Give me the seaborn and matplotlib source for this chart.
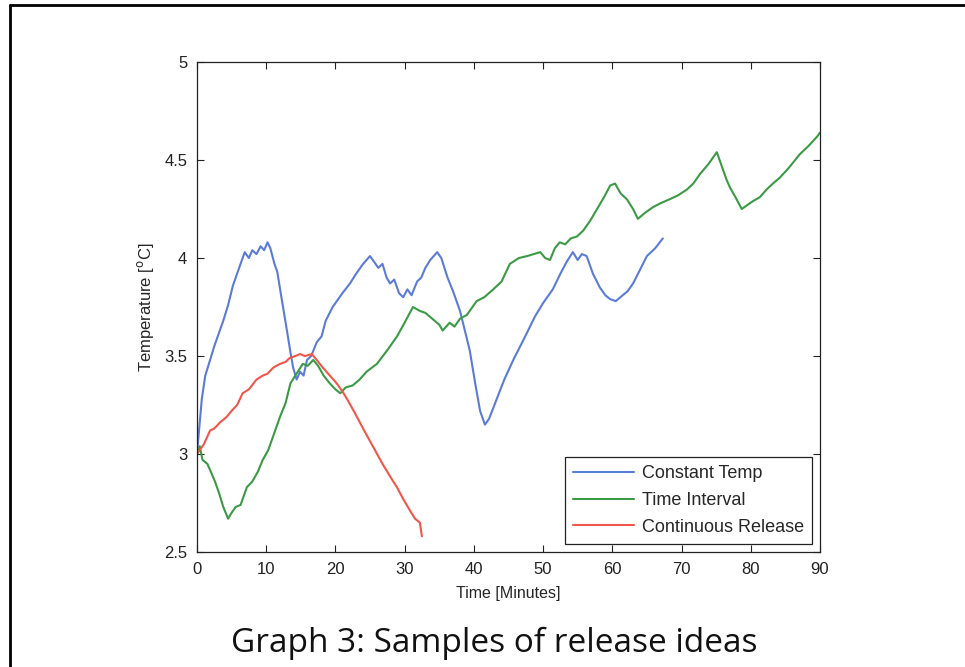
import numpy as np
import pandas as pd
import matplotlib
matplotlib.use("Agg")
import matplotlib.pyplot as plt
from matplotlib.lines import Line2D
import seaborn as sns

# values (time in minutes, temperature in degC)
const_t = [0, 0.3, 0.7, 1.2, 1.9, 2.5, 3.0, 3.8, 4.5, 5.2, 5.8, 6.4, 6.9, 7.5, 8.0,
           8.6, 9.2, 9.7, 10.2, 10.6, 11.2, 11.6, 12.2, 13.0, 13.5, 13.9, 14.4, 14.9,
           15.4, 15.9, 16.5, 17.3, 18.0, 18.6, 19.6, 20.2, 21.0, 22.1, 23.0, 24.0,
           25.0, 25.6, 26.2, 26.8, 27.4, 27.9, 28.5, 29.2, 29.8, 30.4, 31.0, 31.8,
           32.4, 33.0, 33.7, 34.7, 35.3, 36.2, 37.0, 38.0, 39.4, 40.2, 40.9, 41.6,
           42.2, 43.3, 44.4, 45.7, 46.7, 47.7, 48.8, 50.0, 51.4, 52.5, 53.4, 54.3,
           55.0, 55.6, 56.3, 57.2, 58.2, 59.0, 59.7, 60.5, 61.5, 62.2, 63.0, 64.0,
           65.0, 66.2, 67.3]
const_y = [3.00, 3.12, 3.28, 3.40, 3.48, 3.55, 3.60, 3.68, 3.76, 3.86, 3.92, 3.98, 4.03,
           4.00, 4.04, 4.02, 4.06, 4.04, 4.08, 4.05, 3.97, 3.93, 3.80, 3.63, 3.52, 3.44,
           3.38, 3.42, 3.40, 3.48, 3.50, 3.57, 3.60, 3.68, 3.75, 3.78, 3.82, 3.87, 3.92,
           3.97, 4.01, 3.98, 3.95, 3.97, 3.90, 3.87, 3.89, 3.82, 3.80, 3.84, 3.81, 3.88,
           3.90, 3.95, 3.99, 4.03, 4.00, 3.90, 3.83, 3.73, 3.53, 3.36, 3.22, 3.15, 3.18,
           3.28, 3.38, 3.48, 3.55, 3.62, 3.70, 3.77, 3.84, 3.92, 3.98, 4.03, 3.99, 4.02,
           4.01, 3.92, 3.85, 3.81, 3.79, 3.78, 3.81, 3.83, 3.87, 3.94, 4.01, 4.05, 4.10]

interval_t = [0, 0.4, 0.8, 1.5, 2.0, 2.6, 3.2, 3.8, 4.5, 5.0, 5.6, 6.3, 7.2, 8.0, 8.8,
              9.5, 10.3, 11.0, 12.0, 12.8, 13.5, 14.2, 15.3, 16.0, 16.8, 17.5, 18.3,
              19.2, 20.0, 20.7, 21.5, 22.5, 23.5, 24.5, 26.0, 27.5, 28.9, 30.0, 31.2,
              32.2, 33.0, 34.0, 35.0, 35.5, 36.5, 37.2, 38.0, 39.0, 40.4, 41.5, 42.8,
              44.0, 45.2, 46.5, 47.7, 49.6, 50.3, 51.0, 51.7, 52.4, 53.2, 54.0, 54.9,
              55.8, 56.8, 57.8, 58.8, 59.7, 60.4, 61.2, 62.1, 63.0, 63.7, 64.7, 65.9,
              67.0, 68.3, 69.5, 70.8, 71.7, 72.7, 73.9, 75.1, 75.9, 76.5, 77.0, 77.8,
              78.7, 79.5, 80.3, 81.3, 82.3, 83.2, 84.2, 85.5, 87.1, 88.3, 89.6, 90.0]
interval_y = [3.00, 3.04, 2.97, 2.95, 2.91, 2.86, 2.80, 2.73, 2.67, 2.70, 2.73, 2.74,
              2.83, 2.86, 2.91, 2.97, 3.02, 3.09, 3.19, 3.26, 3.36, 3.40, 3.46, 3.45,
              3.48, 3.45, 3.40, 3.36, 3.33, 3.31, 3.34, 3.35, 3.38, 3.42, 3.46, 3.53,
              3.60, 3.67, 3.75, 3.73, 3.72, 3.69, 3.66, 3.63, 3.67, 3.65, 3.69, 3.71,
              3.78, 3.80, 3.84, 3.88, 3.97, 4.00, 4.01, 4.03, 4.00, 3.99, 4.05, 4.08,
              4.07, 4.10, 4.11, 4.14, 4.19, 4.25, 4.31, 4.37, 4.38, 4.33, 4.30, 4.25,
              4.20, 4.23, 4.26, 4.28, 4.30, 4.32, 4.35, 4.38, 4.43, 4.48, 4.54, 4.46,
              4.40, 4.36, 4.31, 4.25, 4.27, 4.29, 4.31, 4.35, 4.38, 4.41, 4.46, 4.53,
              4.57, 4.62, 4.64]

release_t = [0, 0.4, 1.0, 1.9, 2.5, 3.3, 4.3, 5.0, 5.8, 6.6, 7.5, 8.6, 9.5, 10.2, 11.0,
             12.0, 12.8, 13.4, 14.2, 14.9, 15.6, 16.6, 17.3, 18.2, 19.2, 20.2, 21.0,
             21.7, 22.8, 24.0, 25.4, 26.8, 28.0, 28.9, 29.8, 30.8, 31.5, 32.2, 32.5]
release_y = [3.00, 3.02, 3.05, 3.12, 3.13, 3.16, 3.19, 3.22, 3.25, 3.31, 3.33, 3.38,
             3.40, 3.41, 3.44, 3.46, 3.47, 3.49, 3.50, 3.51, 3.50, 3.51, 3.48, 3.44,
             3.40, 3.36, 3.32, 3.28, 3.21, 3.13, 3.04, 2.95, 2.88, 2.83, 2.77, 2.71,
             2.67, 2.65, 2.58]

series_names = ["Constant Temp", "Time Interval", "Continuous Release"]
x_ticks = [0, 10, 20, 30, 40, 50, 60, 70, 80, 90]
y_ticks = [2.5, 3, 3.5, 4, 4.5, 5]
y_tick_labels = ["2.5", "3", "3.5", "4", "4.5", "5"]

df = pd.concat([
    pd.DataFrame({"Time": const_t, "Temp": const_y, "Series": series_names[0]}),
    pd.DataFrame({"Time": interval_t, "Temp": interval_y, "Series": series_names[1]}),
    pd.DataFrame({"Time": release_t, "Temp": release_y, "Series": series_names[2]}),
], ignore_index=True)

sns.set_style("ticks")
plt.rcParams["font.family"] = ["Liberation Sans", "DejaVu Sans"]

palette = {"Constant Temp": "#5b7bd9", "Time Interval": "#3b9a45", "Continuous Release": "#f0564a"}

fig = plt.figure(figsize=(9.65, 6.67), dpi=100)
ax = fig.add_axes([0.2041, 0.1724, 0.6456, 0.7346])

sns.lineplot(data=df, x="Time", y="Temp", hue="Series", palette=palette,
             sort=False, estimator=None, linewidth=1.5, ax=ax)

ax.set_xlim(0, 90)
ax.set_ylim(2.5, 5)
ax.set_xticks(x_ticks)
ax.set_yticks(y_ticks)
ax.set_yticklabels(y_tick_labels)
ax.tick_params(direction="in", length=5, width=0.8, top=True, right=True,
               labelsize=12, colors="#222222", pad=7)
for s in ax.spines.values():
    s.set_visible(True)
    s.set_linewidth(0.9)
    s.set_color("#222222")

ax.set_xlabel("Time [Minutes]", fontsize=11.5, labelpad=7)
ax.set_ylabel("Temperature [$^{\\rm o}$C]", fontsize=12, labelpad=6)

leg = ax.legend(loc="lower right", fontsize=13, frameon=True, fancybox=False,
                edgecolor="#222222", framealpha=1, handlelength=3.4,
                handletextpad=0.4, borderaxespad=0.45, labelspacing=0.55,
                borderpad=0.45)
leg.get_frame().set_linewidth(0.9)

# caption under the chart
fig.text(0.512, 0.036, "Graph 3: Samples of release ideas", ha="center", va="center",
         fontsize=24, family=["Open Sans", "DejaVu Sans"], color="#111111")

# page frame (top and left edge)
fig.add_artist(Line2D([0.0104, 1.0], [0.9925, 0.9925], transform=fig.transFigure,
                      color="black", linewidth=2))
fig.add_artist(Line2D([0.0104, 0.0104], [0.0, 0.9925], transform=fig.transFigure,
                      color="black", linewidth=2))

fig.savefig("out.png", dpi=100, facecolor="white")
